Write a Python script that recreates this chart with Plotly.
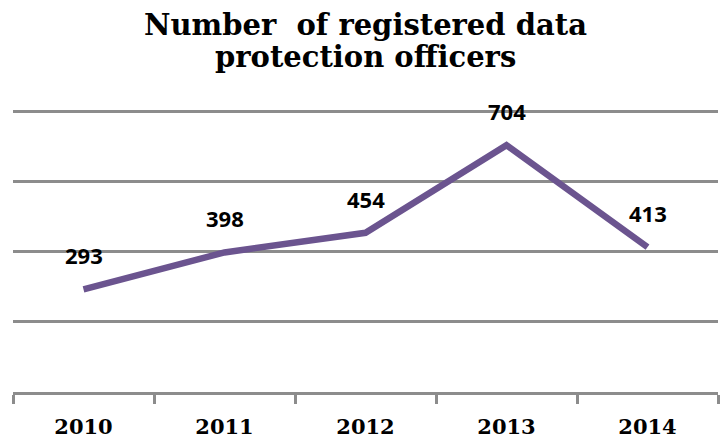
import plotly.graph_objects as go

years = ["2010", "2011", "2012", "2013", "2014"]
officers = [293, 398, 454, 704, 413]
title_lines = ["Number  of registered data", "protection officers"]

line_color = "#6b548f"
grid_color = "#8c8c8c"
serif = "DejaVu Serif"

positions = list(range(len(years)))

TOP, BOTTOM, HEIGHT = 108, 49, 441
plot_h = HEIGHT - TOP - BOTTOM

fig = go.Figure()
fig.add_trace(go.Scatter(
    x=positions, y=officers, mode="lines",
    line=dict(color=line_color, width=6.5),
    hoverinfo="skip", showlegend=False,
))

# value labels above each point
for xp, v in zip(positions, officers):
    fig.add_annotation(
        x=xp, y=v, text=f"<b>{v}</b>", showarrow=False, yshift=34,
        font=dict(family="Open Sans", size=22, color="#000000"),
    )

# two-line chart title
for i, line in enumerate(title_lines):
    fig.add_annotation(
        xref="paper", yref="paper", x=0.5, xanchor="center",
        y=(HEIGHT - BOTTOM - (25 + 32 * i)) / plot_h, yanchor="middle",
        text=f"<b>{line}</b>", showarrow=False,
        font=dict(family=serif, size=29, color="#000000"),
    )

fig.update_layout(
    width=720, height=HEIGHT,
    margin=dict(l=13, r=2, t=TOP, b=BOTTOM),
    paper_bgcolor="white", plot_bgcolor="white",
    xaxis=dict(
        range=[-0.5, len(years) - 0.5], showgrid=False, zeroline=False,
        showline=True, linecolor=grid_color, linewidth=3,
        tickmode="array", tickvals=positions,
        ticktext=[f"<b>{y}</b>" for y in years],
        ticks="",
        tickfont=dict(family=serif, size=21, color="#000000"),
        ticklabelstandoff=14,
        minor=dict(
            tickmode="linear", tick0=-0.5, dtick=1,
            ticks="outside", ticklen=9, tickwidth=3, tickcolor=grid_color,
            showgrid=False,
        ),
    ),
    yaxis=dict(
        range=[0, 810], tickmode="array", tickvals=[0, 200, 400, 600, 800],
        showticklabels=False,
        showgrid=True, gridcolor=grid_color, gridwidth=3,
        zeroline=False, showline=False,
    ),
)

fig.write_html("out.html")
